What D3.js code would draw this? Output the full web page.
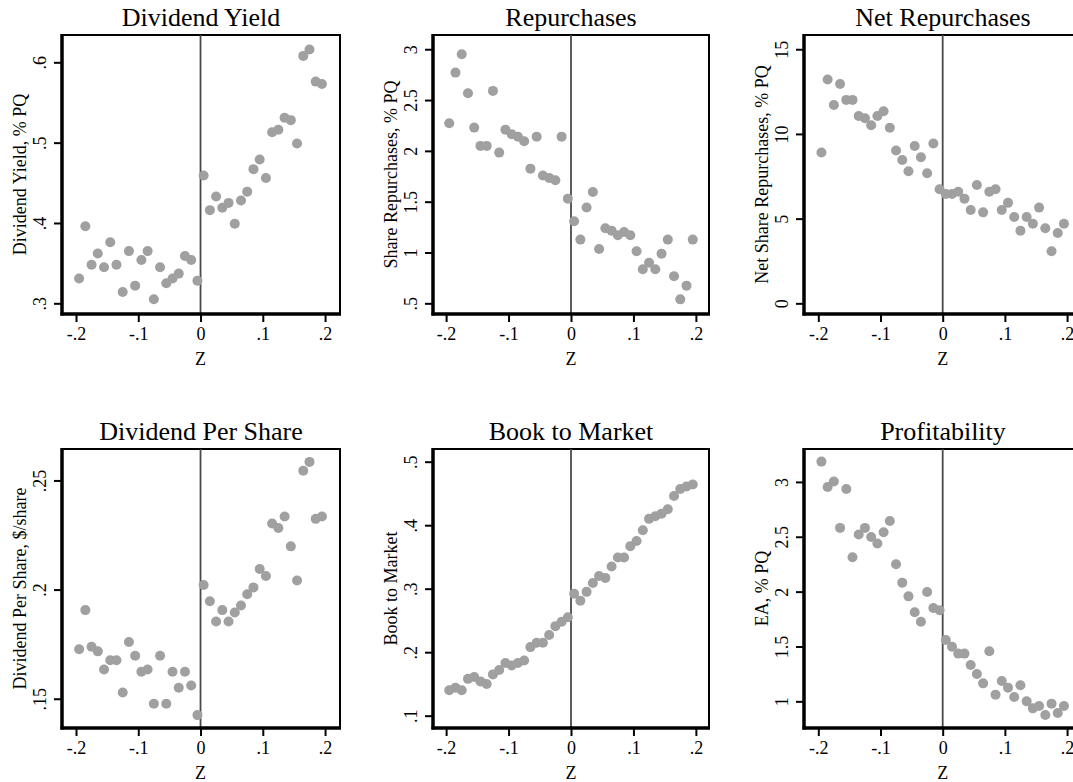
<!DOCTYPE html>
<html>
<head>
<meta charset="utf-8">
<script src="https://cdn.jsdelivr.net/npm/d3@7"></script>
<style>
  html, body { margin: 0; padding: 0; background: #fff; }
  svg { display: block; }
  text { font-family: "Liberation Serif", "Times New Roman", serif; fill: #000; }
</style>
</head>
<body>
<svg id="chart" width="1073" height="782"></svg>
<script>
// ---- data ----
const zBins = [-0.195,-0.185,-0.175,-0.165,-0.155,-0.145,-0.135,-0.125,-0.115,-0.105,
               -0.095,-0.085,-0.075,-0.065,-0.055,-0.045,-0.035,-0.025,-0.015,-0.005,
                0.005, 0.015, 0.025, 0.035, 0.045, 0.055, 0.065, 0.075, 0.085, 0.095,
                0.105, 0.115, 0.125, 0.135, 0.145, 0.155, 0.165, 0.175, 0.185, 0.195];

const dividendYield = [0.331,0.396,0.348,0.362,0.345,0.376,0.348,0.314,0.365,0.322,
                       0.354,0.365,0.305,0.345,0.325,0.331,0.337,0.359,0.354,0.328,
                       0.459,0.416,0.433,0.419,0.425,0.399,0.428,0.439,0.467,0.479,
                       0.456,0.513,0.516,0.531,0.528,0.499,0.608,0.616,0.576,0.573];

const repurchases = [2.272,2.770,2.951,2.567,2.229,2.049,2.049,2.590,1.983,2.209,
                     2.163,2.140,2.094,1.825,2.140,1.757,1.734,1.711,2.140,1.530,
                     1.307,1.127,1.442,1.596,1.035,1.238,1.215,1.169,1.202,1.169,
                     1.012,0.835,0.900,0.835,0.989,1.127,0.766,0.539,0.674,1.127];

const netRepurchases = [8.90,13.21,11.71,12.95,12.01,12.01,11.06,10.93,10.51,11.06,
                        11.34,10.37,9.02,8.46,7.80,9.29,8.62,7.68,9.43,6.73,
                        6.46,6.46,6.59,6.18,5.51,6.99,5.37,6.59,6.73,5.51,
                        5.93,5.10,4.29,5.10,4.70,5.65,4.43,3.07,4.15,4.70];

const dividendPerShare = [0.1727,0.1906,0.1738,0.1717,0.1634,0.1676,0.1676,0.1529,0.1760,0.1697,
                          0.1624,0.1634,0.1477,0.1697,0.1477,0.1624,0.1550,0.1624,0.1561,0.1425,
                          0.2021,0.1947,0.1854,0.1906,0.1854,0.1895,0.1927,0.1979,0.2010,0.2094,
                          0.2062,0.2303,0.2282,0.2335,0.2198,0.2042,0.2544,0.2585,0.2324,0.2335];

const bookToMarket = [0.140,0.144,0.140,0.158,0.161,0.154,0.150,0.165,0.172,0.183,
                      0.179,0.183,0.187,0.208,0.215,0.215,0.227,0.241,0.248,0.255,
                      0.292,0.281,0.295,0.309,0.320,0.317,0.335,0.349,0.349,0.367,
                      0.375,0.392,0.410,0.414,0.418,0.425,0.446,0.457,0.461,0.464];

const profitability = [3.185,2.954,3.003,2.581,2.936,2.313,2.520,2.581,2.498,2.438,
                       2.541,2.644,2.249,2.082,1.957,1.812,1.726,1.997,1.851,1.830,
                       1.559,1.498,1.435,1.435,1.331,1.249,1.164,1.456,1.061,1.185,
                       1.125,1.040,1.146,1.000,0.936,0.957,0.875,0.979,0.894,0.957];

const titles = ["Dividend Yield","Repurchases","Net Repurchases",
                "Dividend Per Share","Book to Market","Profitability"];
const yTitles = ["Dividend Yield, % PQ","Share Repurchases, % PQ","Net Share Repurchases, % PQ",
                 "Dividend Per Share, $/share","Book to Market","EA, % PQ"];
const xTicks = [-0.2,-0.1,0,0.1,0.2];
const xTickLabels = ["-.2","-.1","0",".1",".2"];
const yTicksDY = [0.3,0.4,0.5,0.6];      const yLabelsDY = [".3",".4",".5",".6"];
const yTicksRP = [0.5,1,1.5,2,2.5,3];    const yLabelsRP = [".5","1","1.5","2","2.5","3"];
const yTicksNR = [0,5,10,15];            const yLabelsNR = ["0","5","10","15"];
const yTicksDPS = [0.15,0.2,0.25];       const yLabelsDPS = [".15",".2",".25"];
const yTicksBM = [0.1,0.2,0.3,0.4,0.5];  const yLabelsBM = [".1",".2",".3",".4",".5"];
const yTicksPR = [1,1.5,2,2.5,3];        const yLabelsPR = ["1","1.5","2","2.5","3"];

// ---- layout (pixels / axis ranges) ----
const panels = [
  {values: dividendYield,    yTicks: yTicksDY,  yLabels: yLabelsDY,  frame: [62, 35, 278, 279],  xDom: [-0.2225, 0.224], yDom: [0.2867, 0.634]},
  {values: repurchases,      yTicks: yTicksRP,  yLabels: yLabelsRP,  frame: [433, 35, 276, 279], xDom: [-0.221, 0.221],  yDom: [0.395, 3.14]},
  {values: netRepurchases,   yTicks: yTicksNR,  yLabels: yLabelsNR,  frame: [804, 35, 278, 279], xDom: [-0.223, 0.224],  yDom: [-0.63, 15.84]},
  {values: dividendPerShare, yTicks: yTicksDPS, yLabels: yLabelsDPS, frame: [62, 449, 278, 279], xDom: [-0.2225, 0.224], yDom: [0.1366, 0.2644]},
  {values: bookToMarket,     yTicks: yTicksBM,  yLabels: yLabelsBM,  frame: [433, 449, 276, 279],xDom: [-0.221, 0.221],  yDom: [0.0806, 0.52]},
  {values: profitability,    yTicks: yTicksPR,  yLabels: yLabelsPR,  frame: [804, 449, 278, 279],xDom: [-0.223, 0.224],  yDom: [0.757, 3.30]}
];

const svg = d3.select("#chart");
const dotColor = "#a0a0a0";

panels.forEach((p, i) => {
  const [fx, fy, fw, fh] = p.frame;
  const x = d3.scaleLinear().domain(p.xDom).range([fx, fx + fw]);
  const y = d3.scaleLinear().domain(p.yDom).range([fy + fh, fy]);
  const g = svg.append("g");

  // title
  g.append("text")
    .attr("x", fx + fw / 2).attr("y", fy - 9)
    .attr("text-anchor", "middle")
    .style("font-size", "26px")
    .text(titles[i]);

  // frame (thin) top/right
  g.append("rect")
    .attr("x", fx).attr("y", fy).attr("width", fw).attr("height", fh)
    .attr("fill", "none").attr("stroke", "#000").attr("stroke-width", 2);

  // zero line
  g.append("line")
    .attr("x1", x(0)).attr("x2", x(0))
    .attr("y1", fy).attr("y2", fy + fh)
    .attr("stroke", "#4a4a4a").attr("stroke-width", 1.8);

  // points
  g.selectAll("circle.pt").data(zBins.map((z, k) => [z, p.values[k]]))
    .enter().append("circle")
    .attr("class", "pt")
    .attr("cx", d => x(d[0])).attr("cy", d => y(d[1]))
    .attr("r", 5)
    .attr("fill", dotColor);

  // x axis
  const xAxis = d3.axisBottom(x).tickValues(xTicks)
    .tickFormat((d, k) => xTickLabels[k]).tickSize(8).tickPadding(5);
  const xg = g.append("g").attr("transform", `translate(0,${fy + fh})`).call(xAxis);
  xg.select(".domain").remove();
  xg.selectAll(".tick line").attr("stroke", "#000").attr("stroke-width", 2);
  xg.selectAll(".tick text").style("font-size", "18px")
    .style("font-family", "'Liberation Serif', serif").attr("fill", "#000");

  // y axis
  const yAxis = d3.axisLeft(y).tickValues(p.yTicks)
    .tickFormat((d, k) => p.yLabels[k]).tickSize(8);
  const yg = g.append("g").attr("transform", `translate(${fx},0)`).call(yAxis);
  yg.select(".domain").remove();
  yg.selectAll(".tick line").attr("stroke", "#000").attr("stroke-width", 2);
  yg.selectAll(".tick text")
    .style("font-size", "18px").style("font-family", "'Liberation Serif', serif")
    .attr("fill", "#000")
    .attr("x", null).attr("dy", null)
    .attr("text-anchor", "middle")
    .attr("transform", "translate(-16,0) rotate(-90)");

  // thick axis lines (left & bottom)
  g.append("line")
    .attr("x1", fx).attr("x2", fx).attr("y1", fy - 1).attr("y2", fy + fh + 1.5)
    .attr("stroke", "#000").attr("stroke-width", 3.5);
  g.append("line")
    .attr("x1", fx - 1.5).attr("x2", fx + fw + 1).attr("y1", fy + fh).attr("y2", fy + fh)
    .attr("stroke", "#000").attr("stroke-width", 3.5);

  // x title
  g.append("text")
    .attr("x", x(0)).attr("y", fy + fh + 51)
    .attr("text-anchor", "middle")
    .style("font-size", "18px")
    .text("Z");

  // y title
  g.append("text")
    .attr("transform", `translate(${fx - 36},${fy + fh / 2}) rotate(-90)`)
    .attr("text-anchor", "middle")
    .style("font-size", "18px")
    .text(yTitles[i]);
});
</script>
</body>
</html>
